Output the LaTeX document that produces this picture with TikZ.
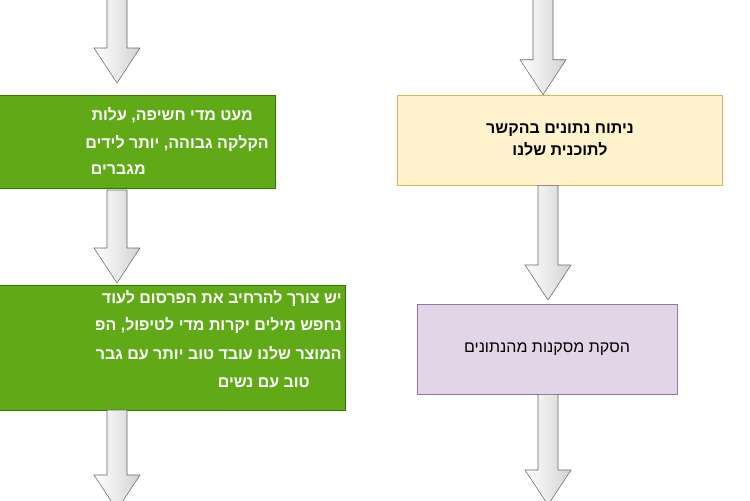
\documentclass[tikz,border=0pt]{standalone}
\usepackage{fontspec}
\usetikzlibrary{calc}
\TeXXeTstate=1
\newfontfamily\heb[Script=Hebrew]{Liberation Sans}
\definecolor{green fill}{HTML}{60A917}
\definecolor{green line}{HTML}{2D7600}
\definecolor{yellow fill}{HTML}{FFF2CC}
\definecolor{yellow line}{HTML}{D6B656}
\definecolor{purple fill}{HTML}{E1D5E7}
\definecolor{purple line}{HTML}{9673A6}
\tikzset{
  greenbox/.style={draw=green line, fill=green fill},
  line/.style={font=\heb\bfseries\fontsize{12}{14}\selectfont, text=white, inner sep=0pt, anchor=east},
  label/.style={font=\heb\fontsize{12}{14}\selectfont, align=center, text=black},
  bigarrow/.style={draw=black!60, left color=white, right color=gray!35}
}
% block arrow from #1 down to #2
\newcommand\bigarrow[2]{
  \path[bigarrow] ($(#1)+(-10,0)$) -- ($(#2)+(-10,-35)$) -- ($(#2)+(-23,-35)$) -- (#2)
    -- ($(#2)+(23,-35)$) -- ($(#2)+(10,-35)$) -- ($(#1)+(10,0)$) -- cycle;
}
\begin{document}
\begin{tikzpicture}[x=0.75pt, y=-0.75pt]
  \useasboundingbox (0,0) rectangle (750,500);
  \clip (0,0) rectangle (750,500);

  % left column
  \draw[greenbox] (-41,95) rectangle (275,188);
  \node[line] (g1a) at (253,115) {\beginR מעט מדי חשיפה, עלות\endR};
  \node[line] (g1b) at (269,143) {\beginR הקלקה גבוהה, יותר לידים\endR};
  \node[line] (g1c) at (146,170) {\beginR מגברים\endR};

  \draw[greenbox] (-41,285) rectangle (345,410);
  \node[line] (g2a) at (342,298) {\beginR יש צורך להרחיב את הפרסום לעוד\endR};
  \node[line] (g2b) at (342,325) {\beginR נחפש מילים יקרות מדי לטיפול, הפ\endR};
  \node[line] (g2c) at (342,353) {\beginR המוצר שלנו עובד טוב יותר עם גבר\endR};
  \node[line] (g2d) at (310,383) {\beginR טוב עם נשים\endR};

  \coordinate (l0) at (117,-5);
  \coordinate (l1) at (117,83);
  \coordinate (l2) at (117,190);
  \coordinate (l3) at (117,283);
  \coordinate (l4) at (117,410);
  \coordinate (l5) at (117,510);
  \bigarrow{l0}{l1}
  \bigarrow{l2}{l3}
  \bigarrow{l4}{l5}

  % right column
  \node[label, draw=yellow line, fill=yellow fill, minimum width=325*0.75pt, minimum height=90*0.75pt,
        font=\heb\bfseries\fontsize{12}{17}\selectfont] (analysis) at (560,140)
        {\beginR ניתוח נתונים בהקשר\endR\\\beginR לתוכנית שלנו\endR};
  \node[label, draw=purple line, fill=purple fill, minimum width=260*0.75pt, minimum height=90*0.75pt]
        (conclude) at (547,349) {\beginR הסקת מסקנות מהנתונים\endR};

  \coordinate (r0) at (543,-5);
  \coordinate (r1) at (543,95);
  \coordinate (r2) at (548,188);
  \coordinate (r3) at (548,300);
  \coordinate (r4) at (548,395);
  \coordinate (r5) at (548,505);
  \bigarrow{r0}{analysis.north -| r0}
  \bigarrow{analysis.south -| r2}{r3}
  \bigarrow{conclude.south -| r4}{r5}
\end{tikzpicture}
\end{document}
